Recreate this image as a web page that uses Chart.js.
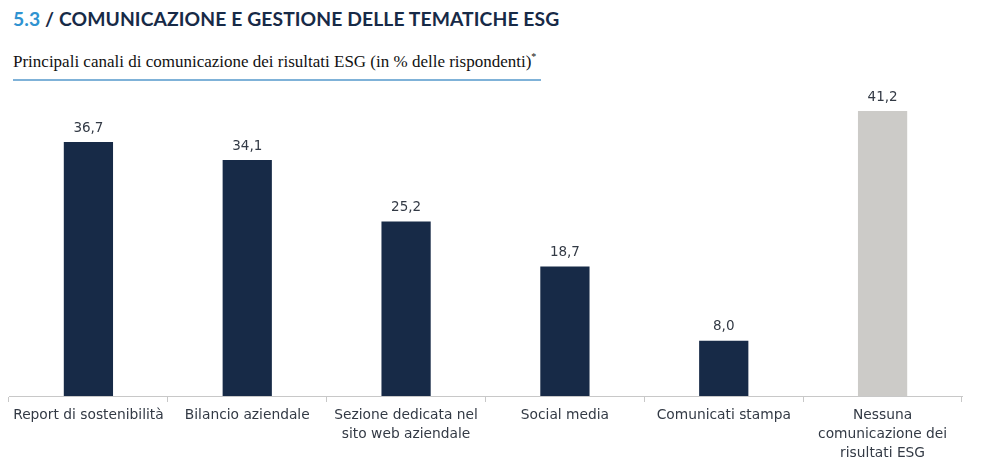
<!DOCTYPE html>
<html>
<head>
<meta charset="utf-8">
<script src="https://cdn.jsdelivr.net/npm/chart.js"></script>
<style>
  html, body { margin: 0; padding: 0; background: #fff; }
  body { width: 991px; height: 468px; position: relative; overflow: hidden; }
  #title { position: absolute; left: 13px; top: 7px; font: bold 19.3px Lato, sans-serif; color: #172a47; letter-spacing: 0.1px; }
  #title span { color: #2f93d1; }
  #subtitle { position: absolute; left: 13px; top: 51px; font: 17px "Liberation Serif", serif; color: #111; }
  #subtitle sup { font-size: 10px; }
  #rule { position: absolute; left: 13px; top: 79px; width: 528px; height: 2px; background: #7fb2d8; }
  #wrap { position: absolute; left: 0; top: 0; width: 991px; height: 468px; }
</style>
</head>
<body>
<div id="title"><span>5.3</span> / COMUNICAZIONE E GESTIONE DELLE TEMATICHE ESG</div>
<div id="subtitle">Principali canali di comunicazione dei risultati ESG (in % delle rispondenti)<sup>*</sup></div>
<div id="rule"></div>
<div id="wrap"><canvas id="chart"></canvas></div>
<script>
// categories and values
const categories = [
    ['Report di sostenibilità'],
    ['Bilancio aziendale'],
    ['Sezione dedicata nel', 'sito web aziendale'],
    ['Social media'],
    ['Comunicati stampa'],
    ['Nessuna', 'comunicazione dei', 'risultati ESG']
];
const values = [36.7, 34.1, 25.2, 18.7, 8.0, 41.2];
const barColors = ['#172a47', '#172a47', '#172a47', '#172a47', '#172a47', '#cccbc8'];

// value labels above the bars, Italian decimal comma
const valueLabels = {
    id: 'valueLabels',
    afterDatasetsDraw(chart) {
        const ctx = chart.ctx;
        const meta = chart.getDatasetMeta(0);
        ctx.save();
        ctx.font = '13.5px "DejaVu Sans", sans-serif';
        ctx.fillStyle = '#333a45';
        ctx.textAlign = 'center';
        ctx.textBaseline = 'bottom';
        meta.data.forEach((bar, i) => {
            ctx.fillText(values[i].toFixed(1).replace('.', ','), bar.x, bar.y - 7);
        });
        ctx.restore();
    }
};

new Chart(document.getElementById('chart'), {
    type: 'bar',
    data: {
        labels: categories,
        datasets: [{
            data: values,
            backgroundColor: barColors,
            categoryPercentage: 1,
            barPercentage: 0.31
        }]
    },
    options: {
        responsive: true,
        maintainAspectRatio: false,
        animation: false,
        layout: { padding: { top: 50, left: 9, right: 29, bottom: 0 } },
        plugins: { legend: { display: false }, tooltip: { enabled: false } },
        scales: {
            y: { display: false, min: 0, max: 50 },
            x: {
                afterFit(scale) { scale.height = 72; },
                border: { color: '#c8c8c8', width: 1 },
                grid: { offset: true, drawOnChartArea: false, drawTicks: true, tickLength: 6, color: '#c8c8c8' },
                ticks: {
                    color: '#333a45',
                    font: { family: '"DejaVu Sans", sans-serif', size: 13.8, lineHeight: 1.38 },
                    maxRotation: 0,
                    autoSkip: false,
                    padding: 4
                }
            }
        }
    },
    plugins: [valueLabels]
});
</script>
</body>
</html>
